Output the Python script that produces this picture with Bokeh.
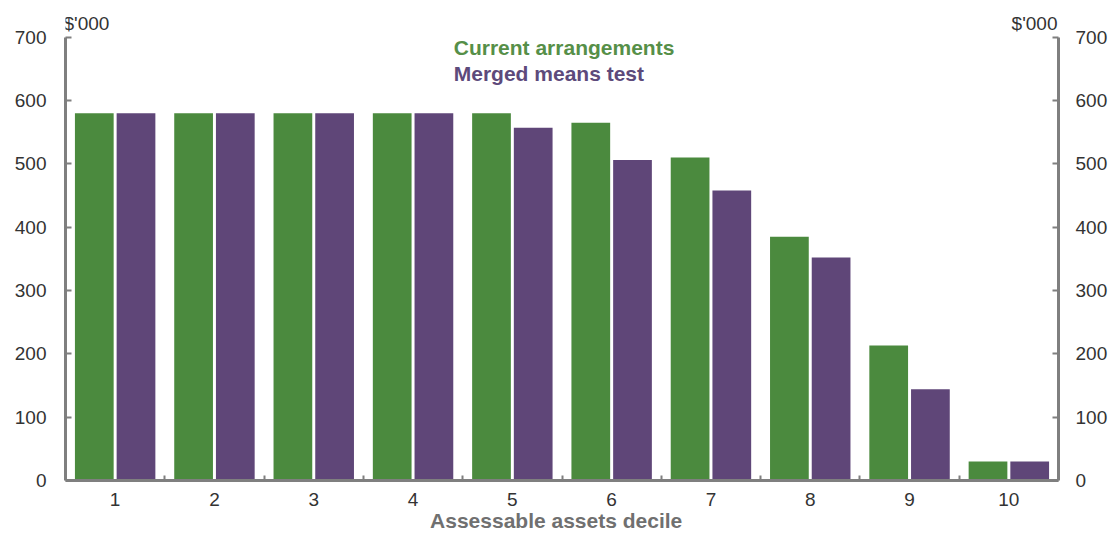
from bokeh.plotting import figure
from bokeh.models import Range1d, LinearAxis, FixedTicker, Label, ColumnDataSource
from bokeh.embed import file_html
from bokeh.resources import INLINE

deciles = [1, 2, 3, 4, 5, 6, 7, 8, 9, 10]
current = [580, 580, 580, 580, 580, 565, 510, 385, 213, 30]
merged = [580, 580, 580, 580, 557, 506, 458, 352, 144, 30]
y_ticks = [0, 100, 200, 300, 400, 500, 600, 700]
series_names = ["Current arrangements", "Merged means test"]
x_title = "Assessable  assets  decile"
unit_label = "$'000"

GREEN = "#4b8a3e"
PURPLE = "#5f4678"
AXIS = "#7f7f7f"
FONT = "Liberation Sans"

p = figure(width=1110, height=534, output_backend="svg", toolbar_location=None,
           x_range=Range1d(0.5, 10.5), y_range=Range1d(0, 750),
           min_border_left=65, min_border_right=47, min_border_top=5, min_border_bottom=53)
p.extra_y_ranges = {"right": Range1d(0, 750)}
p.outline_line_color = None
p.grid.visible = False
p.background_fill_color = "white"
p.border_fill_color = "white"

src = ColumnDataSource(dict(
    xc=[d - 0.21 for d in deciles], xm=[d + 0.21 for d in deciles],
    cur=current, mer=merged))
p.vbar(x="xc", top="cur", width=0.39, bottom=0, source=src, fill_color=GREEN, line_color=None)
p.vbar(x="xm", top="mer", width=0.39, bottom=0, source=src, fill_color=PURPLE, line_color=None)

# x axis
xa = p.xaxis[0]
xa.ticker = FixedTicker(ticks=deciles, minor_ticks=[d + 0.5 for d in deciles[:-1]])
xa.major_tick_line_color = None
xa.major_tick_in = 0
xa.major_tick_out = 0
xa.minor_tick_in = 5
xa.minor_tick_out = 0
xa.minor_tick_line_color = AXIS
xa.minor_tick_line_width = 2
xa.axis_line_color = AXIS
xa.axis_line_width = 3
xa.major_label_text_font = FONT
xa.major_label_text_font_size = "19px"
xa.major_label_text_color = "#333333"
xa.major_label_standoff = 12
xa.axis_label = x_title
xa.axis_label_text_font = FONT
xa.axis_label_text_font_size = "21px"
xa.axis_label_text_font_style = "bold"
xa.axis_label_text_color = "#707070"
xa.axis_label_standoff = 0

def style_y(ax, standoff):
    ax.ticker = FixedTicker(ticks=y_ticks)
    ax.bounds = (0, 700)
    ax.minor_tick_line_color = None
    ax.major_tick_in = 6
    ax.major_tick_out = 0
    ax.major_tick_line_color = AXIS
    ax.major_tick_line_width = 2
    ax.axis_line_color = AXIS
    ax.axis_line_width = 3
    ax.major_label_text_font = FONT
    ax.major_label_text_font_size = "19px"
    ax.major_label_text_color = "#333333"
    ax.major_label_standoff = standoff

style_y(p.yaxis[0], 19)
ra = LinearAxis(y_range_name="right")
style_y(ra, 17)
p.add_layout(ra, "right")

# unit labels
p.add_layout(Label(x=0.5, y=700, text=unit_label, text_align="left", text_baseline="alphabetic",
                   y_offset=14, x_offset=-2, text_font=FONT, text_font_size="19px", text_color="#333333"))
p.add_layout(Label(x=10.5, y=700, text=unit_label, text_align="right", text_baseline="alphabetic",
                   y_offset=14, x_offset=-1, text_font=FONT, text_font_size="19px", text_color="#333333"))

# legend text
p.add_layout(Label(x=4.41, y=683, text=series_names[0], text_align="left", text_baseline="middle",
                   text_font=FONT, text_font_size="21px", text_font_style="bold", text_color="#568f48"))
p.add_layout(Label(x=4.41, y=643, text=series_names[1], text_align="left", text_baseline="middle",
                   text_font=FONT, text_font_size="21px", text_font_style="bold", text_color="#5d4a7b"))

open("out.html", "w").write(file_html(p, INLINE))
